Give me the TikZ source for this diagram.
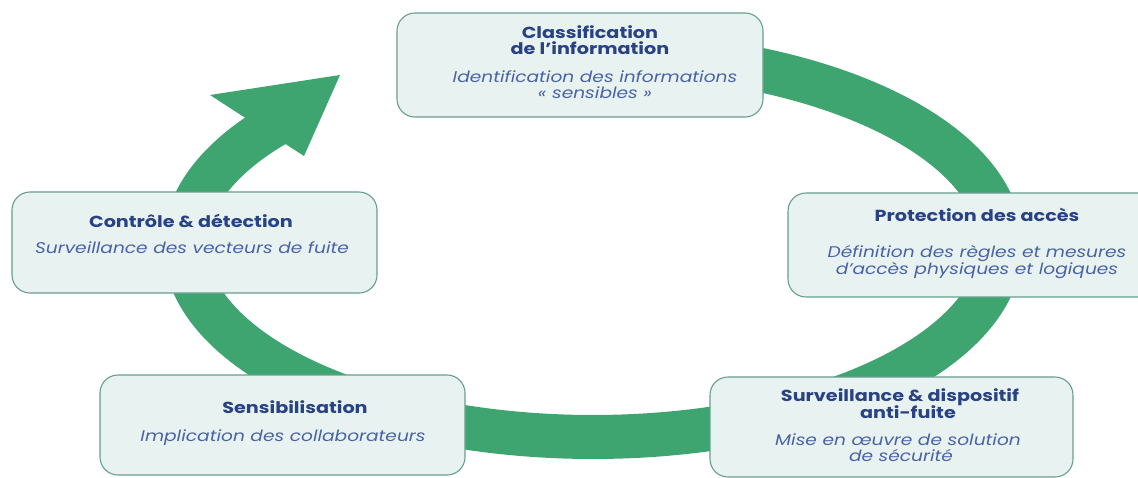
\documentclass[tikz,border=0pt]{standalone}
\usepackage{fontspec}
\setmainfont{Poppins}[FakeStretch=1.2]
\definecolor{ringgreen}{RGB}{62,164,112}
\definecolor{boxfill}{RGB}{232,243,241}
\definecolor{boxline}{RGB}{104,158,142}
\definecolor{ttlblue}{RGB}{40,66,132}
\definecolor{subblue}{RGB}{74,98,166}
\tikzset{
  stage/.style={draw=boxline, fill=boxfill, line width=1.1pt, rounded corners=18pt, inner sep=0pt},
  ttl/.style={font=\bfseries\fontsize{16}{18}\selectfont, text=ttlblue, anchor=base, inner sep=0pt},
  sub/.style={font=\itshape\fontsize{15.5}{18}\selectfont, text=subblue, anchor=base, inner sep=0pt},
}
\begin{document}
\begin{tikzpicture}[x=1pt,y=-1pt]
\fill[white] (0,0) rectangle (1138,477);
\useasboundingbox (0,0) rectangle (1138,477);
% cycle band
\draw[ringgreen, line width=44pt] plot[domain=265:580, samples=140, smooth] ({593+408*cos(\x)},{245+192*sin(\x)});
\fill[ringgreen] (210,95) -- (340,75) -- (304,156) -- cycle;
% boxes
\node[stage, minimum width=366pt, minimum height=104pt] (cls) at (580,65) {};
\node[stage, minimum width=365pt, minimum height=101pt] (ctl) at (194.5,242.5) {};
\node[stage, minimum width=372pt, minimum height=104pt] (pro) at (974,245) {};
\node[stage, minimum width=365pt, minimum height=100pt] (sen) at (282.5,425) {};
\node[stage, minimum width=363pt, minimum height=100pt] (sur) at (891.5,427) {};
% texts
\node[ttl] (clsA) at (590,38) {Classification};
\node[ttl] (clsB) at (590,54) {de l’information};
\node[sub] (clsC) at (595,82) {Identification des informations};
\node[sub] (clsD) at (595,98) {« sensibles »};
\node[ttl] (ctlA) at (191,227) {Contrôle \& détection};
\node[sub] (ctlB) at (192,253) {Surveillance des vecteurs de fuite};
\node[ttl] (proA) at (977,221) {Protection des accès};
\node[sub] (proB) at (977,257) {Définition des règles et mesures};
\node[sub] (proC) at (977,274) {d’accès physiques et logiques};
\node[ttl] (senA) at (295,413) {Sensibilisation};
\node[sub] (senB) at (283,441) {Implication des collaborateurs};
\node[ttl] (surA) at (900,401) {Surveillance \& dispositif};
\node[ttl] (surB) at (908,418) {anti-fuite};
\node[sub] (surC) at (898,445) {Mise en œuvre de solution};
\node[sub] (surD) at (901,461) {de sécurité};
\end{tikzpicture}
\end{document}
